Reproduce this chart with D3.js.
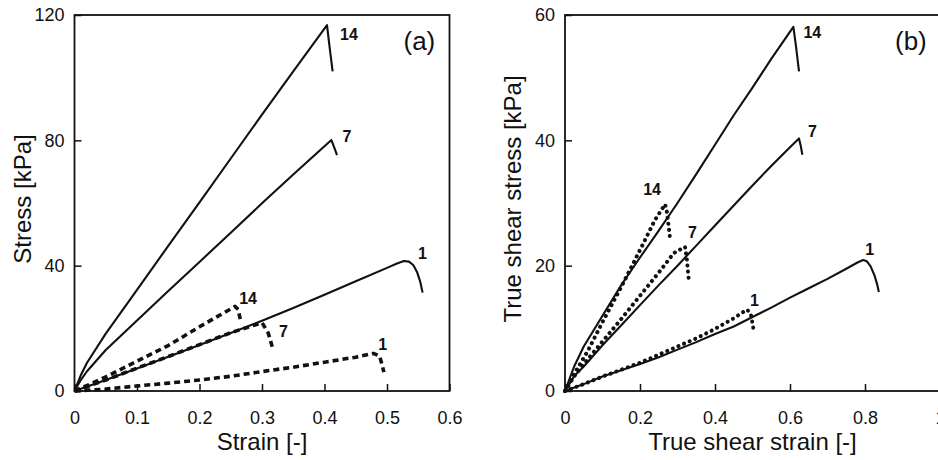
<!DOCTYPE html>
<html>
<head>
<meta charset="utf-8">
<script src="https://cdn.jsdelivr.net/npm/d3@7"></script>
<style>
  html, body { margin: 0; padding: 0; background: #fff; }
  svg { display: block; font-family: "Liberation Sans", Arial, sans-serif; }
  .tick text { font-size: 18px; fill: #111; }
  .tick line { stroke: #111; stroke-width: 1.5; }
  .axis-title { font-size: 24px; fill: #111; }
  .curve-label { font-size: 16px; font-weight: bold; fill: #111; }
  .panel-tag { font-size: 26px; fill: #111; }
</style>
</head>
<body>
<div id="chart"></div>
<script>
// panel (a): strain vs stress [kPa], ages 14 / 7 / 1
var strainTicks = [0, 0.1, 0.2, 0.3, 0.4, 0.5, 0.6];
var stressTicks = [0, 40, 80, 120];

var aSolid14 = [[0,0],[0.01,5],[0.02,9],[0.05,18.3],[0.1,32.3],[0.15,46.3],[0.2,60.2],[0.25,74.2],[0.3,88.2],[0.35,102],[0.404,116.8],[0.408,110],[0.413,102]];
var aSolid7 = [[0,0],[0.01,3.5],[0.02,6.3],[0.05,13.1],[0.1,22.5],[0.15,31.9],[0.2,41.2],[0.25,50.5],[0.3,59.9],[0.35,69.1],[0.411,80.1],[0.416,77.5],[0.42,75.3]];
var aSolid1 = [[0,0],[0.05,3.5],[0.1,7.2],[0.15,10.9],[0.2,14.7],[0.25,18.5],[0.3,22.4],[0.35,26.5],[0.4,30.7],[0.45,35],[0.5,39.3],[0.515,40.6],[0.527,41.5],[0.535,41.3],[0.542,40.2],[0.548,38],[0.553,35],[0.557,31.4]];
var aDash14 = [[0,0],[0.025,2.2],[0.05,4.5],[0.1,9.5],[0.15,14.5],[0.2,20.5],[0.257,27],[0.262,26],[0.266,22]];
var aDash7 = [[0,0],[0.05,3.5],[0.1,7.3],[0.15,11],[0.2,14.8],[0.25,18.6],[0.3,21.8],[0.31,18.5],[0.318,13]];
var aDash1 = [[0,0],[0.05,0.6],[0.1,1.6],[0.15,2.5],[0.2,3.5],[0.25,4.7],[0.3,6.2],[0.35,7.6],[0.4,9.2],[0.45,10.8],[0.478,12],[0.488,11.2],[0.492,8.5],[0.495,6]];

// panel (b): true shear strain vs true shear stress [kPa]
var shearStrainTicks = [0, 0.2, 0.4, 0.6, 0.8, 1];
var shearStressTicks = [0, 20, 40, 60];

var bSolid14 = [[0,0],[0.025,4],[0.05,7.1],[0.1,12],[0.15,16.9],[0.2,21.3],[0.25,25.6],[0.3,30],[0.35,34.6],[0.4,39.3],[0.45,44],[0.5,48.4],[0.55,53],[0.609,58.1],[0.616,55],[0.624,51]];
var bSolid7 = [[0,0],[0.025,2.4],[0.05,3.9],[0.1,7.3],[0.15,10.5],[0.2,13.7],[0.25,16.9],[0.3,20],[0.35,23.2],[0.4,26.4],[0.45,29.6],[0.5,32.8],[0.55,35.9],[0.6,38.9],[0.624,40.3],[0.629,39],[0.633,37.7]];
var bSolid1 = [[0,0],[0.05,1.1],[0.1,2.3],[0.15,3.3],[0.2,4.3],[0.25,5.4],[0.3,6.6],[0.35,7.8],[0.4,9.1],[0.45,10.3],[0.5,11.8],[0.55,13.3],[0.6,14.9],[0.65,16.4],[0.7,17.9],[0.75,19.5],[0.78,20.5],[0.795,20.9],[0.805,20.7],[0.815,19.9],[0.825,18.5],[0.832,17.1],[0.837,15.8]];
var bDash14 = [[0,0],[0.03,3.3],[0.06,6.3],[0.1,11],[0.15,16.6],[0.2,22.5],[0.24,27.3],[0.267,29.8],[0.272,28.5],[0.277,26],[0.28,24.4]];
var bDash7 = [[0,0],[0.025,2.4],[0.05,4.3],[0.1,7.9],[0.15,11.5],[0.2,15.2],[0.25,18.9],[0.29,22],[0.32,23],[0.325,21],[0.33,17.7]];
var bDash1 = [[0,0],[0.05,1.1],[0.1,2.3],[0.15,3.4],[0.2,4.5],[0.25,5.8],[0.3,7.1],[0.35,8.4],[0.4,9.9],[0.45,11.6],[0.485,13],[0.495,12.4],[0.5,10.8],[0.503,9.7]];

var W = 938, H = 460;

var svg = d3.select("#chart").append("svg")
    .attr("width", W)
    .attr("height", H);

// draws one panel; series = [{data, label, dashed, dx, dy}]
function drawPanel(opt) {
    var x = d3.scaleLinear().domain([0, opt.xTicks[opt.xTicks.length - 1]]).range([opt.left, opt.left + 375]);
    var y = d3.scaleLinear().domain([0, opt.yTicks[opt.yTicks.length - 1]]).range([391, 15]);

    var g = svg.append("g");

    var xAxis = d3.axisBottom(x)
        .tickValues(opt.xTicks)
        .tickSizeInner(-7)
        .tickSizeOuter(0)
        .tickPadding(20)
        .tickFormat(function (d) { return d3.format("")(+d.toFixed(2)); });

    var yAxis = d3.axisLeft(y)
        .tickValues(opt.yTicks)
        .tickSizeInner(-7)
        .tickSizeOuter(0)
        .tickPadding(10);

    g.append("g").attr("transform", "translate(0,391)").call(xAxis)
        .call(function (s) { s.select(".domain").remove(); });
    g.append("g").attr("transform", "translate(" + opt.left + ",0)").call(yAxis)
        .call(function (s) { s.select(".domain").remove(); });

    // frame
    g.append("rect")
        .attr("x", x.range()[0])
        .attr("y", 15)
        .attr("width", 375)
        .attr("height", 376)
        .attr("fill", "none")
        .attr("stroke", "#111")
        .attr("stroke-width", 1.8);

    var line = d3.line()
        .x(function (d) { return x(d[0]); })
        .y(function (d) { return y(d[1]); });

    opt.series.forEach(function (s) {
        var p = g.append("path")
            .datum(s.data)
            .attr("fill", "none")
            .attr("stroke", "#111")
            .attr("stroke-linejoin", "round")
            .attr("d", line);
        if (s.dashed) {
            p.attr("stroke-width", opt.dashWidth)
             .attr("stroke-dasharray", opt.dashPattern)
             .attr("stroke-linecap", opt.dashCap);
        } else {
            p.attr("stroke-width", 2.1);
        }

        // label next to peak
        var peak = s.data.reduce(function (a, b) { return b[1] > a[1] ? b : a; });
        g.append("text")
            .attr("class", "curve-label")
            .attr("x", x(peak[0]) + s.dx)
            .attr("y", y(peak[1]) + s.dy)
            .text(s.label);
    });

    g.append("text")
        .attr("class", "axis-title")
        .attr("text-anchor", "middle")
        .attr("x", opt.left + 187.5)
        .attr("y", 450)
        .text(opt.xTitle);

    g.append("text")
        .attr("class", "axis-title")
        .attr("text-anchor", "middle")
        .attr("transform", "translate(" + (opt.left - 44) + "," + 199 + ") rotate(-90)")
        .text(opt.yTitle);

    g.append("text")
        .attr("class", "panel-tag")
        .attr("x", opt.left + opt.tagX)
        .attr("y", 50)
        .text(opt.tag);
}

drawPanel({
    left: 74.5,
    xTicks: strainTicks,
    yTicks: stressTicks,
    xTitle: "Strain [-]",
    yTitle: "Stress [kPa]",
    tag: "(a)",
    tagX: 329,
    dashWidth: 3.6,
    dashPattern: "6,4",
    dashCap: "butt",
    series: [
        { data: aSolid14, label: "14", dx: 13, dy: 15 },
        { data: aSolid7, label: "7", dx: 11, dy: 2 },
        { data: aSolid1, label: "1", dx: 14, dy: -2 },
        { data: aDash14, label: "14", dashed: true, dx: 4, dy: -2 },
        { data: aDash7, label: "7", dashed: true, dx: 17, dy: 14 },
        { data: aDash1, label: "1", dashed: true, dx: 5, dy: -3 }
    ]
});

drawPanel({
    left: 565,
    xTicks: shearStrainTicks,
    yTicks: shearStressTicks,
    xTitle: "True shear strain [-]",
    yTitle: "True shear stress [kPa]",
    tag: "(b)",
    tagX: 330,
    dashWidth: 4,
    dashPattern: "0.1,6",
    dashCap: "round",
    series: [
        { data: bSolid14, label: "14", dx: 10, dy: 11 },
        { data: bSolid7, label: "7", dx: 9, dy: -1 },
        { data: bSolid1, label: "1", dx: 2, dy: -5 },
        { data: bDash14, label: "14", dashed: true, dx: -22, dy: -9 },
        { data: bDash7, label: "7", dashed: true, dx: 3, dy: -9 },
        { data: bDash1, label: "1", dashed: true, dx: 3, dy: -4 }
    ]
});
</script>
</body>
</html>
